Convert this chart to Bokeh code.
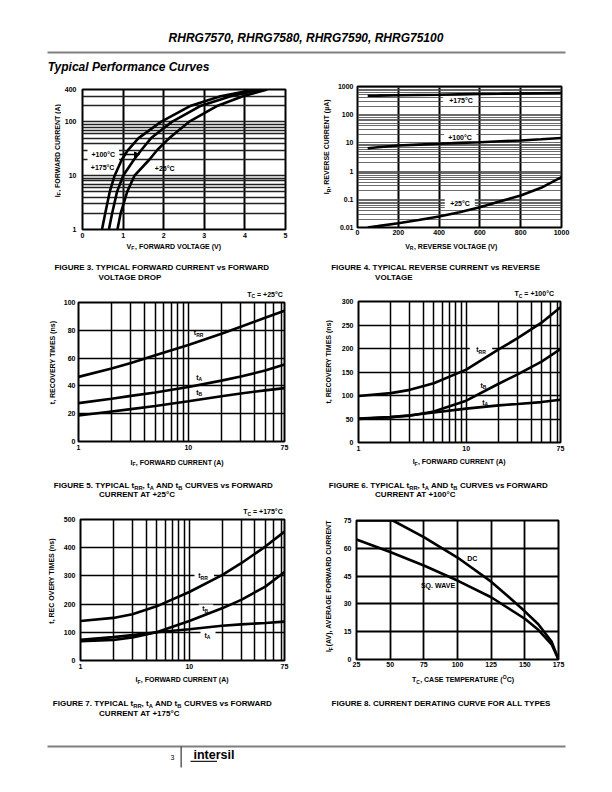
import math
from bokeh.plotting import figure
from bokeh.models import (Range1d, FixedTicker, CustomJSTickFormatter, Label, BoxAnnotation,
                          Arrow, NormalHead)
from bokeh.layouts import column, row
from bokeh.embed import file_html
from bokeh.resources import INLINE

# ---------------- data ----------------
# Figure 3: forward current (A) vs forward voltage (V)
f3_if = [1, 2, 5, 10, 20, 30, 50, 100, 200, 300, 400]
f3_vf_175 = [0.48, 0.56, 0.67, 0.79, 0.97, 1.12, 1.38, 1.93, 2.67, 3.40, 4.25]
f3_vf_100 = [0.65, 0.73, 0.85, 1.00, 1.27, 1.45, 1.69, 2.20, 2.92, 3.65, 4.40]
f3_vf_25 = [0.86, 0.94, 1.10, 1.28, 1.65, 1.84, 2.14, 2.62, 3.33, 3.95, 4.55]
f3_xticks = [0, 1, 2, 3, 4, 5]
f3_yticks = [1, 10, 100, 400]
f3_xgrid = [1, 2, 3, 4]
f3_ygrid = [2, 3, 4, 5, 6, 7, 8, 9, 10, 20, 30, 40, 50, 60, 70, 80, 90, 100, 200, 300]

# Figure 4: reverse current (uA) vs reverse voltage (V)
f4_vr = [50, 100, 200, 300, 400, 500, 600, 700, 800, 900, 1000]
f4_ir_175 = [470, 475, 490, 500, 510, 525, 540, 550, 565, 578, 590]
f4_ir_100 = [6.5, 7.0, 8.1, 8.7, 9.3, 10.0, 10.6, 11.4, 12.2, 13.5, 15.0]
f4_ir_25 = [0.0100, 0.0112, 0.0142, 0.0185, 0.0246, 0.035, 0.0526, 0.085, 0.136, 0.256, 0.61]
f4_xticks = [0, 200, 400, 600, 800, 1000]
f4_yticks = [0.01, 0.1, 1, 10, 100, 1000]
f4_xgrid = [200, 400, 600, 800]
f4_ygrid = [m * d for d in (0.01, 0.1, 1, 10, 100) for m in range(2, 11)]

# Figures 5-7: recovery times (ns) vs forward current (A)
f5_if = [1, 2, 3, 5, 10, 20, 30, 50, 75]
f5_trr = [46.5, 52.5, 56.5, 62, 69.5, 77.5, 82.5, 89, 94]
f5_ta = [27.6, 30.7, 32.8, 35.3, 39.2, 43.8, 46.8, 51, 55.4]
f5_tb = [18.7, 21.6, 23.3, 25.5, 29, 32.6, 34.5, 36.8, 38.4]

f6_if = [1, 2, 3, 5, 10, 20, 30, 50, 75]
f6_trr = [99, 105, 112, 126, 155, 198, 222, 255, 288]
f6_tb = [51, 54, 57, 66, 89, 125, 145, 172, 199]
f6_ta = [50, 54, 58, 64, 72, 79, 82, 86, 91]

f7_if = [1, 2, 3, 5, 10, 20, 30, 50, 75]
f7_trr = [140, 151, 164, 192, 243, 303, 345, 404, 457]
f7_tb = [68, 73, 82, 100, 140, 185, 215, 262, 314]
f7_ta = [73, 83, 90, 100, 111, 123, 128, 133, 138]

log_xticks = [1, 10, 75]
log_xgrid = [2, 3, 4, 5, 6, 7, 8, 9, 10, 20, 30, 40, 50, 60, 70]
f5_yticks = [0, 20, 40, 60, 80, 100]
f6_yticks = [0, 50, 100, 150, 200, 250, 300]
f7_yticks = [0, 100, 200, 300, 400, 500]

# Figure 8: derating curve
f8_t_dc = [25, 52, 75, 100, 125, 140, 150, 160, 170, 175]
f8_if_dc = [75, 75, 66, 55, 42, 32.5, 26, 19, 9.5, 0]
f8_t_sq = [25, 50, 75, 100, 125, 150, 160, 170, 175]
f8_if_sq = [64.7, 58, 50.7, 42.6, 33.6, 22, 16, 8, 0]
f8_xticks = [25, 50, 75, 100, 125, 150, 175]
f8_yticks = [0, 15, 30, 45, 60, 75]

# ---------------- helpers ----------------
FONT = "Liberation Sans"
_U = [722, 722, 722, 722, 667, 611, 778, 722, 278, 556, 722, 611, 833, 722, 778, 667, 778, 722, 667,
      611, 722, 667, 944, 667, 667, 611]
_L = [556, 611, 556, 611, 556, 333, 611, 611, 278, 278, 556, 278, 889, 611, 611, 611, 611, 389, 556,
      333, 611, 556, 778, 556, 556, 500]
CW = {}
for i, c in enumerate("ABCDEFGHIJKLMNOPQRSTUVWXYZ"):
    CW[c] = _U[i]
for i, c in enumerate("abcdefghijklmnopqrstuvwxyz"):
    CW[c] = _L[i]
for c in "0123456789":
    CW[c] = 556
CW.update({" ": 278, ",": 278, ".": 278, "(": 333, ")": 333, "+": 584, "=": 584, "\u00b0": 400,
           "\u00b5": 611, "-": 333})


def tw(s, size):
    return sum(CW.get(c, 600) for c in s) * size / 1000.0


class Panel:
    def __init__(self, p, L, B):
        self.p, self.L, self.B = p, L, B


def rich(pn, px, py, pieces, size=7.0, align="left", vertical=False, style="bold"):
    """Place text (with sub/superscripts) so that its visual centre line is at page (px, py)."""
    items, total = [], 0.0
    for t, k in pieces:
        s = size * 0.72 if k != "n" else size
        items.append((t, k, s, total))
        total += tw(t, s)
    off = -total / 2 if align == "center" else 0.0
    for t, k, s, pos in items:
        dy = {"n": 0.0, "b": -0.32 * size, "p": 0.35 * size}[k]
        lead = len(t) - len(t.lstrip(" "))
        txt = t.strip(" ")
        if not txt:
            continue
        c = off + pos + tw(" " * lead, s) + tw(txt, s) / 2
        if not vertical:
            xp, yp, ang = px + c, py - dy, 0.0
        else:
            xp, yp, ang = px - dy, py - c, math.pi / 2
        pn.p.add_layout(Label(x=xp - pn.L, y=pn.B - yp, x_units="screen", y_units="screen",
                              text=txt, angle=ang, text_font=FONT, text_font_style=style,
                              text_font_size="%.2fpx" % s, text_align="center",
                              text_baseline="middle", text_color="black"))


def wbox(pn, x0, x1, y0, y1, color="white"):
    pn.p.add_layout(BoxAnnotation(left=x0 - pn.L, right=x1 - pn.L, top=pn.B - y0, bottom=pn.B - y1,
                                  left_units="screen", right_units="screen", top_units="screen",
                                  bottom_units="screen", fill_color=color, fill_alpha=1.0,
                                  line_color=None, level="underlay"))


def strip(x0, y0, w, h):
    p = figure(width=w, height=h, x_range=Range1d(0, 1), y_range=Range1d(0, 1),
               x_axis_location=None, y_axis_location=None, output_backend="svg",
               toolbar_location=None, min_border=0)
    p.outline_line_color = None
    p.xgrid.visible = False
    p.ygrid.visible = False
    p.background_fill_color = "white"
    p.border_fill_color = "white"
    return Panel(p, x0, y0 + h)


class Cell:
    def __init__(self, x0, y0, W, H, L, R, T, B, bl, xr, yr, xlog=False, ylog=False,
                 xstand=3, ystand=5, bt=3, bb=12):
        cx, cy = L - bl, T - bt
        ch = (B + bb) - cy
        self.top = strip(x0, y0, W, cy - y0)
        self.left = strip(x0, cy, cx - x0, ch)
        self.bottom = strip(x0, B + bb, W, y0 + H - (B + bb))
        p = figure(width=x0 + W - cx, height=ch, x_range=Range1d(*xr), y_range=Range1d(*yr),
                   x_axis_type="log" if xlog else "linear",
                   y_axis_type="log" if ylog else "linear",
                   output_backend="svg", toolbar_location=None,
                   min_border_left=bl, min_border_right=x0 + W - R,
                   min_border_top=bt, min_border_bottom=bb)
        p.background_fill_color = "white"
        p.border_fill_color = "white"
        p.outline_line_color = "black"
        p.outline_line_width = 2
        p.outline_line_alpha = 1.0
        for ax in p.axis:
            ax.axis_line_color = None
            ax.major_tick_line_color = None
            ax.minor_tick_line_color = None
            ax.major_tick_out = 0
            ax.major_tick_in = 0
            ax.minor_tick_out = 0
            ax.minor_tick_in = 0
            ax.major_label_text_font = FONT
            ax.major_label_text_font_style = "bold"
            ax.major_label_text_font_size = "7px"
            ax.major_label_text_color = "black"
        p.xaxis.major_label_standoff = xstand
        p.yaxis.major_label_standoff = ystand
        self.chart = Panel(p, L, B)
        self.layout = column(self.top.p, row(self.left.p, p), self.bottom.p)


def set_ticks(pn, xticks, yticks, xgrid, ygrid, xw=1.5, yw=1.5, ycol="black", yalpha=1.0,
              xlog=False, ylog=False):
    p = pn.p
    p.xaxis.ticker = FixedTicker(ticks=xticks, minor_ticks=[])
    p.yaxis.ticker = FixedTicker(ticks=yticks, minor_ticks=[])
    fmt = "return tick.toString();"
    if xlog:
        p.xaxis.formatter = CustomJSTickFormatter(code=fmt)
    if ylog:
        p.yaxis.formatter = CustomJSTickFormatter(code=fmt)
    p.xgrid.ticker = FixedTicker(ticks=xgrid, minor_ticks=[])
    p.ygrid.ticker = FixedTicker(ticks=ygrid, minor_ticks=[])
    p.xgrid.grid_line_color = "black"
    p.xgrid.grid_line_width = xw
    p.ygrid.grid_line_color = ycol
    p.ygrid.grid_line_width = yw
    p.ygrid.grid_line_alpha = yalpha
    p.xgrid.minor_grid_line_color = None
    p.ygrid.minor_grid_line_color = None


LW = 2.6
DEG = "\u00b0"

# ---------------- header ----------------
H0 = strip(0, 0, 604, 80)
rich(H0, 305.5, 37, [("RHRG7570, RHRG7580, RHRG7590, RHRG75100", "n")], size=12,
     align="center", style="bold italic")
wbox(H0, 47, 565, 51, 53, color="#7f7f7f")
rich(H0, 47, 66.5, [("Typical Performance Curves", "n")], size=12, style="bold italic")

# ---------------- Figure 3 ----------------
C3 = Cell(0, 80, 306, 203, 81, 285, 89, 229, 20, (0, 5), (1, 400), ylog=True, xstand=3, ystand=6)
P3 = C3.chart
set_ticks(P3, f3_xticks, f3_yticks, f3_xgrid, f3_ygrid, xw=2, yw=1.3, ycol="#222222", ylog=True)
wbox(P3, 86, 117.5, 146.5, 161.5)
for v in (f3_vf_175, f3_vf_100, f3_vf_25):
    P3.p.line(v, f3_if, line_width=LW, color="black")
rich(P3, 90, 154, [("+100" + DEG + "C", "n")])
rich(P3, 89.3, 167, [("+175" + DEG + "C", "n")])
rich(P3, 153.3, 168, [("+25" + DEG + "C", "n")])
P3.p.add_layout(Arrow(end=NormalHead(size=5, fill_color="black", line_color="black"),
                      x_start=118 - P3.L, y_start=P3.B - 154, x_end=138 - P3.L, y_end=P3.B - 154,
                      start_units="screen", end_units="screen", line_width=1.3, line_color="black"))
rich(C3.bottom, 173.7, 245.7, [("V", "n"), ("F", "b"), (", FORWARD VOLTAGE (V)", "n")],
     align="center")
rich(C3.left, 56.7, 162, [("I", "n"), ("F", "b"), (", FORWARD CURRENT (A)", "n")],
     align="center", vertical=True)
rich(C3.bottom, 53.3, 267.3, [("FIGURE 3. TYPICAL FORWARD CURRENT vs FORWARD", "n")], size=8)
rich(C3.bottom, 97.3, 276.9, [("VOLTAGE DROP", "n")], size=8)

# ---------------- Figure 4 ----------------
C4 = Cell(306, 80, 298, 203, 356, 561, 86, 227, 22, (0, 1000), (0.01, 1000), ylog=True,
          xstand=2, ystand=4)
P4 = C4.chart
set_ticks(P4, f4_xticks, f4_yticks, f4_xgrid, f4_ygrid, xw=2, yw=0.8, ycol="#444444",
          ylog=True)
wbox(P4, 441.7, 476.7, 95.5, 105)
wbox(P4, 442.7, 475, 132.3, 141)
wbox(P4, 443.3, 473.3, 198.3, 208.3)
for v in (f4_ir_175, f4_ir_100, f4_ir_25):
    P4.p.line(f4_vr, v, line_width=LW, color="black")
rich(P4, 459.5, 100.3, [("+175" + DEG + "C", "n")], align="center")
rich(P4, 458.5, 136.7, [("+100" + DEG + "C", "n")], align="center")
rich(P4, 458.5, 203.3, [("+25" + DEG + "C", "n")], align="center")
rich(C4.bottom, 451, 245.7, [("V", "n"), ("R", "b"), (", REVERSE VOLTAGE (V)", "n")],
     align="center")
rich(C4.left, 326, 158.3, [("I", "n"), ("R", "b"), (", REVERSE CURRENT (\u00b5A)", "n")],
     align="center", vertical=True)
rich(C4.bottom, 330.7, 266.9, [("FIGURE 4. TYPICAL REVERSE CURRENT vs REVERSE", "n")], size=8)
rich(C4.bottom, 374, 276.9, [("VOLTAGE", "n")], size=8)

# ---------------- Figure 5 ----------------
C5 = Cell(0, 283, 306, 217, 78, 284, 302, 441, 20, (1, 75), (0, 100), xlog=True, xstand=3,
          ystand=3)
P5 = C5.chart
set_ticks(P5, log_xticks, f5_yticks, log_xgrid, f5_yticks[1:-1], xlog=True)
for v in (f5_trr, f5_ta, f5_tb):
    P5.p.line(f5_if, v, line_width=LW, color="black")
rich(P5, 193.3, 332.3, [("t", "n"), ("RR", "b")])
rich(P5, 195.7, 376.7, [("t", "n"), ("A", "b")])
rich(P5, 195.7, 391.7, [("t", "n"), ("B", "b")])
rich(C5.top, 246.7, 293.5, [("T", "n"), ("C", "b"), (" = +25" + DEG + "C", "n")])
rich(C5.bottom, 176.7, 461.7, [("I", "n"), ("F", "b"), (", FORWARD CURRENT (A)", "n")],
     align="center")
rich(C5.left, 51.7, 374, [("t, RECOVERY TIMES (ns)", "n")], align="center", vertical=True)
rich(C5.bottom, 53.3, 484.7, [("FIGURE 5. TYPICAL t", "n"), ("RR", "b"), (", t", "n"),
                              ("A", "b"), (" AND t", "n"), ("B", "b"),
                              (" CURVES vs FORWARD", "n")], size=8)
rich(C5.bottom, 98.3, 494.3, [("CURRENT AT +25" + DEG + "C", "n")], size=8)

# ---------------- Figure 6 ----------------
C6 = Cell(306, 283, 298, 217, 358, 560, 301, 442, 22, (1, 75), (0, 300), xlog=True, xstand=3,
          ystand=5)
P6 = C6.chart
set_ticks(P6, log_xticks, f6_yticks, log_xgrid, f6_yticks[1:-1], xlog=True)
wbox(P6, 469.3, 491.7, 345, 353.5)
for v in (f6_trr, f6_tb, f6_ta):
    P6.p.line(f6_if, v, line_width=LW, color="black")
rich(P6, 475.7, 349.3, [("t", "n"), ("RR", "b")])
rich(P6, 480, 384.5, [("t", "n"), ("B", "b")])
rich(P6, 481.7, 401.7, [("t", "n"), ("A", "b")])
rich(C6.top, 514, 293, [("T", "n"), ("C", "b"), (" = +100" + DEG + "C", "n")])
rich(C6.bottom, 458.8, 461, [("I", "n"), ("F", "b"), (", FORWARD CURRENT (A)", "n")],
     align="center")
rich(C6.left, 327.7, 373.3, [("t, RECOVERY TIMES (ns)", "n")], align="center", vertical=True)
rich(C6.bottom, 328.3, 484.7, [("FIGURE 6. TYPICAL t", "n"), ("RR", "b"), (", t", "n"),
                               ("A", "b"), (" AND t", "n"), ("B", "b"),
                               (" CURVES vs FORWARD", "n")], size=8)
rich(C6.bottom, 374.3, 494.3, [("CURRENT AT +100" + DEG + "C", "n")], size=8)

# ---------------- Figure 7 ----------------
C7 = Cell(0, 500, 306, 220, 80, 284, 519, 660, 22, (1, 75), (0, 500), xlog=True, xstand=3,
          ystand=5)
P7 = C7.chart
set_ticks(P7, log_xticks, f7_yticks, log_xgrid, f7_yticks[1:-1], xlog=True)
wbox(P7, 194, 213.5, 571.5, 579.5)
wbox(P7, 198.3, 212.7, 604, 612.5)
wbox(P7, 200, 215, 630, 638.5)
for v in (f7_trr, f7_tb, f7_ta):
    P7.p.line(f7_if, v, line_width=LW, color="black")
rich(P7, 197.7, 575.3, [("t", "n"), ("RR", "b")])
rich(P7, 201.7, 608.3, [("t", "n"), ("B", "b")])
rich(P7, 204, 634.5, [("t", "n"), ("A", "b")])
rich(C7.top, 242.7, 511, [("T", "n"), ("C", "b"), (" = +175" + DEG + "C", "n")])
rich(C7.bottom, 181.7, 679, [("I", "n"), ("F", "b"), (", FORWARD CURRENT (A)", "n")],
     align="center")
rich(C7.left, 51, 592.5, [("t, REC OVERY TIMES (ns)", "n")], align="center", vertical=True)
rich(C7.bottom, 52.3, 703.3, [("FIGURE 7. TYPICAL t", "n"), ("RR", "b"), (", t", "n"),
                              ("A", "b"), (" AND t", "n"), ("B", "b"),
                              (" CURVES vs FORWARD", "n")], size=8)
rich(C7.bottom, 98.3, 713, [("CURRENT AT +175" + DEG + "C", "n")], size=8)

# ---------------- Figure 8 ----------------
C8 = Cell(306, 500, 298, 220, 356, 558, 520, 659, 20, (25, 175), (0, 75), xstand=2, ystand=5,
          bt=10)
P8 = C8.chart
set_ticks(P8, f8_xticks, f8_yticks, f8_xticks[1:-1], f8_yticks[1:-1], xw=1.8, yw=1.8)
P8.p.line(f8_t_dc, f8_if_dc, line_width=LW, color="black")
P8.p.line(f8_t_sq, f8_if_sq, line_width=LW, color="black")
rich(P8, 466.7, 558.3, [("DC", "n")])
rich(P8, 420, 585, [("SQ. WAVE", "n")])
rich(C8.bottom, 462.5, 679, [("T", "n"), ("C", "b"), (", CASE TEMPERATURE (", "n"), ("O", "p"),
                             ("C)", "n")], align="center")
rich(C8.left, 328.3, 591.5, [("I", "n"), ("F", "b"), ("(AV), AVERAGE FORWARD CURRENT (A)", "n")],
     align="center", vertical=True)
rich(C8.bottom, 330.7, 703, [("FIGURE 8. CURRENT DERATING CURVE FOR ALL TYPES", "n")], size=8)

# ---------------- footer ----------------
F0 = strip(0, 720, 604, 64)
wbox(F0, 47, 565, 745, 747, color="#7f7f7f")
wbox(F0, 180, 181.3, 746, 767, color="#444444")
rich(F0, 170, 756.5, [("3", "n")], size=7, style="normal")
rich(F0, 193, 754, [("intersil", "n")], size=12.5, style="bold")
wbox(F0, 190, 216.5, 760.2, 761.5, color="#222222")

layout = column(H0.p, row(C3.layout, C4.layout), row(C5.layout, C6.layout),
                row(C7.layout, C8.layout), F0.p)
open("out.html", "w").write(file_html(layout, INLINE))
